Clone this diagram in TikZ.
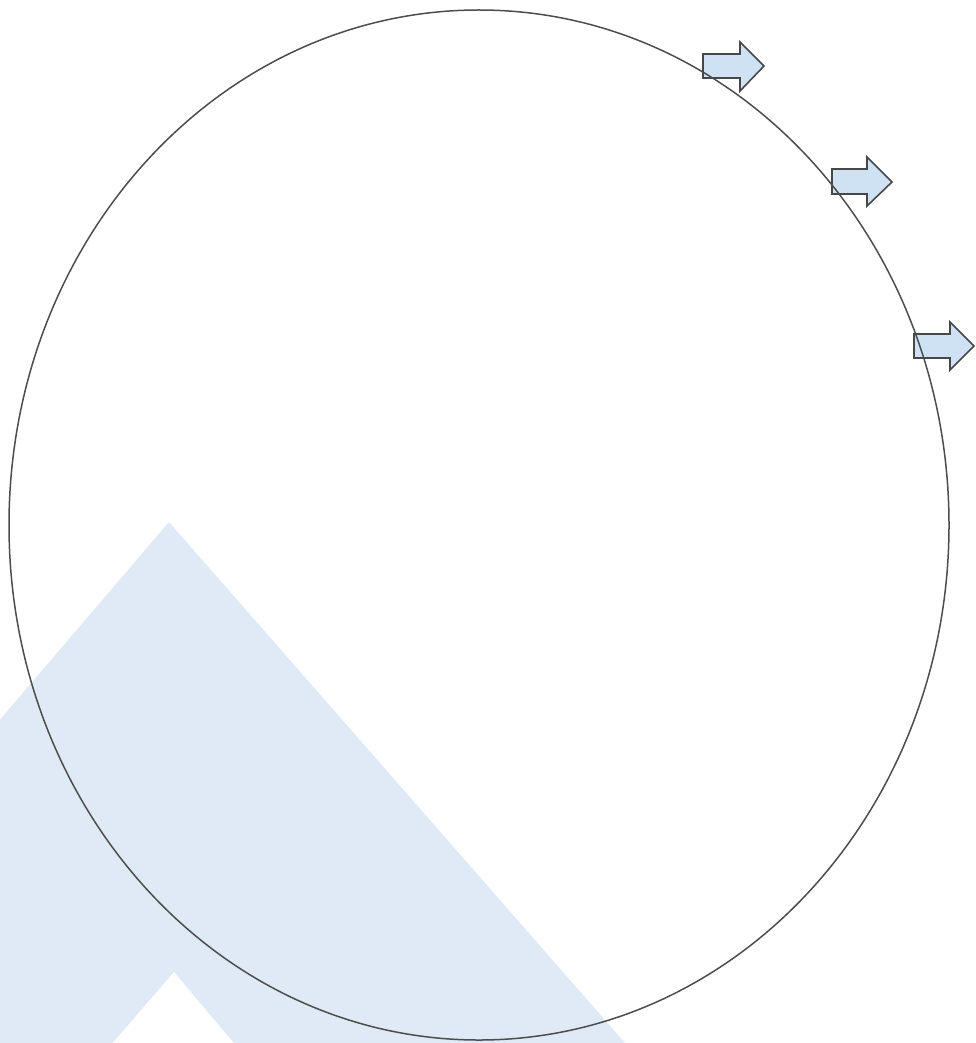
\documentclass[tikz,border=0pt]{standalone}
\usepackage{tikz}
\definecolor{bgblue}{HTML}{DFEAF6}
\definecolor{arrowfill}{HTML}{CFE2F3}
\definecolor{linegray}{HTML}{4D4D4D}
\tikzset{
  blockarrow/.style={fill=arrowfill, draw=black!72, line width=1.6pt, line join=miter},
  ring/.style={draw=linegray, line width=1.5pt},
}
\begin{document}
\begin{tikzpicture}[x=1pt,y=-1pt]
\useasboundingbox (0,0) rectangle (975,1043);
\begin{scope}
\clip (0,0) rectangle (975,1043);
% background mountain
\fill[bgblue] (169,522) -- (640,1060) -- (-20,1060) -- (-20,743) -- cycle;
\fill[white] (174,972) -- (248,1060) -- (98,1060) -- cycle;
% block arrows
\draw[blockarrow] (703,54) -- (740,54) -- (740,42) -- (764,66) -- (740,91) -- (740,78) -- (703,78) -- cycle;
\draw[blockarrow] (832,169) -- (867,169) -- (867,157) -- (892,182) -- (867,206) -- (867,194) -- (832,194) -- cycle;
\draw[blockarrow] (914,334) -- (950,334) -- (950,322) -- (974,346) -- (950,370) -- (950,358) -- (914,358) -- cycle;
\end{scope}
% big ellipse
\draw[ring] (479,525) ellipse [x radius=470, y radius=515];
\end{tikzpicture}
\end{document}
